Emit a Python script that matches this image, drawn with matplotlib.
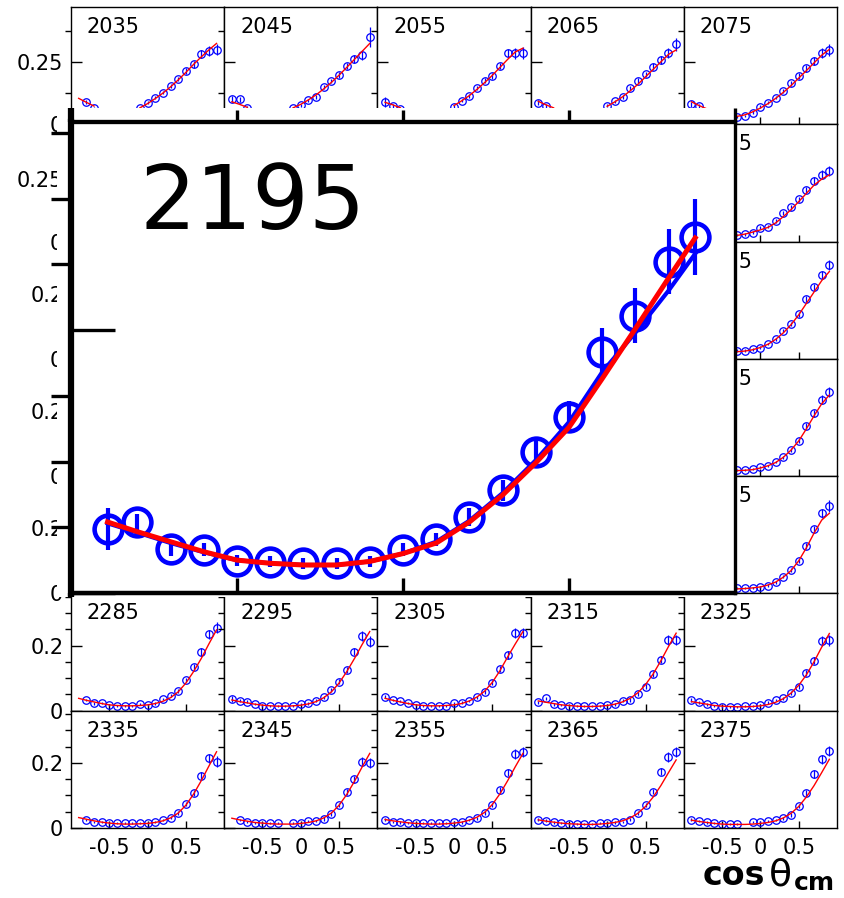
import numpy as np
import matplotlib.pyplot as plt
from matplotlib.patches import Rectangle
from matplotlib.ticker import FuncFormatter

plt.rcParams['axes.unicode_minus'] = False
plt.rcParams['font.family'] = 'DejaVu Sans'

nan = np.nan

# beam energies of the 5 x 7 panels (MeV)
energies = [2035, 2045, 2055, 2065, 2075,
            2085, 2095, 2105, 2115, 2125,
            2135, 2145, 2155, 2165, 2175,
            2185, 2195, 2205, 2215, 2225,
            2235, 2245, 2255, 2265, 2275,
            2285, 2295, 2305, 2315, 2325,
            2335, 2345, 2355, 2365, 2375]
row_ymax = [0.47, 0.47, 0.36, 0.36, 0.36, 0.36, 0.36]

cos_cm = [-0.9, -0.8, -0.7, -0.6, -0.5, -0.4, -0.3, -0.2, -0.1, 0.0,
          0.1, 0.2, 0.3, 0.4, 0.5, 0.6, 0.7, 0.8, 0.9]

# visible panels: cross section, error, fit  (nan = not visible / missing)
y_2035 = [nan, 0.090, 0.064, nan, nan, nan, nan, nan, 0.065, 0.087, 0.107, 0.127, 0.153, 0.181, 0.214, 0.240, 0.280, 0.295, 0.298]
f_2035 = [0.104, 0.088, 0.073, nan, nan, nan, nan, nan, 0.066, 0.083, 0.103, 0.125, 0.150, 0.178, 0.208, 0.240, 0.270, 0.298, 0.324]
e_2035 = [0.010, 0.008, 0.007, 0.006, 0.006, 0.005, 0.005, 0.005, 0.005, 0.006, 0.006, 0.007, 0.008, 0.009, 0.011, 0.013, 0.016, 0.020, 0.022]

y_2045 = [0.100, 0.100, 0.065, nan, nan, nan, nan, nan, 0.064, 0.077, 0.097, 0.110, 0.148, 0.173, 0.197, 0.234, 0.260, 0.278, 0.351]
f_2045 = [0.090, 0.080, 0.068, nan, nan, nan, nan, nan, 0.066, 0.080, 0.098, 0.118, 0.142, 0.168, 0.197, 0.228, 0.260, 0.292, 0.324]
e_2045 = [0.012, 0.009, 0.007, 0.006, 0.006, 0.005, 0.005, 0.005, 0.005, 0.006, 0.006, 0.007, 0.008, 0.009, 0.011, 0.013, 0.016, 0.020, 0.040]

y_2055 = [0.090, 0.073, 0.060, nan, nan, nan, nan, nan, nan, 0.070, 0.095, 0.113, 0.144, 0.175, 0.194, 0.234, 0.284, 0.284, 0.287]
f_2055 = [0.088, 0.078, 0.066, nan, nan, nan, nan, nan, nan, 0.075, 0.094, 0.115, 0.140, 0.167, 0.196, 0.228, 0.260, 0.290, 0.305]
e_2055 = [0.020, 0.009, 0.007, 0.006, 0.006, 0.005, 0.005, 0.005, 0.005, 0.006, 0.006, 0.007, 0.008, 0.009, 0.011, 0.013, 0.016, 0.022, 0.024]

y_2065 = [0.087, 0.073, nan, nan, nan, nan, nan, nan, nan, 0.075, 0.093, 0.110, 0.144, 0.175, 0.200, 0.231, 0.258, 0.284, 0.320]
f_2065 = [0.092, 0.078, 0.066, nan, nan, nan, nan, nan, nan, 0.072, 0.090, 0.110, 0.134, 0.160, 0.190, 0.220, 0.250, 0.280, 0.298]
e_2065 = [0.010, 0.008, 0.007, 0.006, 0.006, 0.005, 0.005, 0.005, 0.005, 0.006, 0.006, 0.007, 0.008, 0.009, 0.011, 0.013, 0.016, 0.020, 0.026]

y_2075 = [0.080, 0.073, nan, nan, nan, nan, 0.030, 0.033, 0.047, 0.070, 0.087, 0.107, 0.135, 0.164, 0.194, 0.224, 0.255, 0.287, 0.298]
f_2075 = [0.090, 0.075, 0.062, nan, nan, nan, 0.032, 0.038, 0.050, 0.065, 0.083, 0.104, 0.128, 0.155, 0.185, 0.215, 0.246, 0.277, 0.300]
e_2075 = [0.010, 0.008, 0.007, 0.006, 0.006, 0.005, 0.005, 0.005, 0.005, 0.006, 0.006, 0.007, 0.008, 0.009, 0.011, 0.013, 0.016, 0.020, 0.024]

y_2125 = [nan, nan, nan, nan, nan, nan, 0.026, 0.029, 0.036, 0.056, 0.060, 0.083, 0.113, 0.137, 0.169, 0.207, 0.244, 0.267, 0.284]
f_2125 = [nan, nan, nan, nan, nan, nan, 0.025, 0.030, 0.038, 0.047, 0.057, 0.075, 0.100, 0.128, 0.160, 0.193, 0.226, 0.250, 0.267]
e_2125 = [0.008, 0.007, 0.006, 0.005, 0.005, 0.005, 0.005, 0.005, 0.005, 0.005, 0.006, 0.007, 0.008, 0.009, 0.010, 0.012, 0.015, 0.018, 0.020]

y_2175 = [nan, nan, nan, nan, nan, nan, 0.025, 0.025, 0.029, 0.034, 0.045, 0.060, 0.086, 0.107, 0.137, 0.183, 0.220, 0.258, 0.288]
f_2175 = [nan, nan, nan, nan, nan, nan, 0.022, 0.024, 0.028, 0.035, 0.045, 0.060, 0.080, 0.105, 0.135, 0.170, 0.205, 0.240, 0.268]
e_2175 = [0.006, 0.005, 0.004, 0.004, 0.004, 0.004, 0.004, 0.004, 0.004, 0.004, 0.004, 0.005, 0.005, 0.006, 0.007, 0.009, 0.011, 0.013, 0.016]

y_2225 = [nan, nan, nan, nan, nan, nan, 0.019, 0.019, 0.022, 0.027, 0.031, 0.044, 0.058, 0.080, 0.109, 0.154, 0.193, 0.234, 0.259]
f_2225 = [nan, nan, nan, nan, nan, nan, 0.017, 0.018, 0.020, 0.025, 0.032, 0.042, 0.058, 0.080, 0.108, 0.145, 0.185, 0.222, 0.249]
e_2225 = [0.005, 0.004, 0.004, 0.003, 0.003, 0.003, 0.003, 0.003, 0.003, 0.003, 0.004, 0.004, 0.005, 0.006, 0.007, 0.009, 0.011, 0.014, 0.016]

y_2275 = [nan, nan, nan, nan, nan, nan, 0.016, 0.016, 0.016, 0.021, 0.024, 0.034, 0.051, 0.072, 0.099, 0.145, 0.197, 0.246, 0.268]
f_2275 = [nan, nan, nan, nan, nan, nan, 0.014, 0.015, 0.017, 0.020, 0.026, 0.035, 0.050, 0.070, 0.100, 0.140, 0.185, 0.225, 0.246]
e_2275 = [0.005, 0.004, 0.004, 0.003, 0.003, 0.003, 0.003, 0.003, 0.003, 0.003, 0.004, 0.004, 0.005, 0.006, 0.007, 0.009, 0.011, 0.014, 0.018]

y_2285 = [nan, 0.033, 0.023, 0.025, 0.017, 0.015, 0.014, 0.015, 0.021, 0.017, 0.023, 0.036, 0.046, 0.060, 0.094, 0.135, 0.179, 0.234, 0.255]
f_2285 = [0.038, 0.032, 0.027, 0.022, 0.018, 0.016, 0.015, 0.015, 0.016, 0.018, 0.022, 0.029, 0.040, 0.058, 0.085, 0.120, 0.160, 0.205, 0.248]
e_2285 = [0.005, 0.004, 0.004, 0.003, 0.003, 0.003, 0.003, 0.003, 0.003, 0.003, 0.004, 0.004, 0.005, 0.006, 0.007, 0.009, 0.012, 0.015, 0.016]

y_2295 = [0.036, 0.031, 0.028, 0.020, 0.015, 0.015, 0.014, 0.014, 0.014, 0.020, 0.023, 0.031, 0.041, 0.064, 0.089, 0.125, 0.181, 0.230, 0.212]
f_2295 = [0.033, 0.028, 0.024, 0.020, 0.017, 0.015, 0.014, 0.014, 0.015, 0.017, 0.021, 0.028, 0.040, 0.058, 0.085, 0.120, 0.160, 0.203, 0.243]
e_2295 = [0.008, 0.004, 0.004, 0.003, 0.003, 0.003, 0.003, 0.003, 0.003, 0.003, 0.004, 0.004, 0.005, 0.006, 0.007, 0.009, 0.011, 0.015, 0.016]

y_2305 = [0.043, 0.033, 0.030, 0.023, 0.017, 0.014, 0.014, 0.014, 0.014, 0.023, 0.025, 0.030, 0.041, 0.058, 0.086, 0.127, 0.171, 0.238, 0.238]
f_2305 = [0.038, 0.032, 0.027, 0.022, 0.018, 0.016, 0.015, 0.015, 0.016, 0.018, 0.022, 0.030, 0.042, 0.060, 0.087, 0.123, 0.165, 0.205, 0.243]
e_2305 = [0.005, 0.004, 0.004, 0.003, 0.003, 0.003, 0.003, 0.003, 0.003, 0.003, 0.004, 0.004, 0.005, 0.006, 0.007, 0.009, 0.011, 0.016, 0.016]

y_2315 = [0.026, 0.038, 0.020, 0.017, 0.014, 0.014, 0.014, 0.014, 0.014, 0.017, 0.020, 0.031, 0.033, 0.050, 0.074, 0.113, 0.156, 0.217, 0.217]
f_2315 = [0.030, 0.026, 0.022, 0.018, 0.016, 0.014, 0.013, 0.013, 0.014, 0.016, 0.020, 0.027, 0.038, 0.055, 0.080, 0.113, 0.153, 0.197, 0.238]
e_2315 = [0.005, 0.004, 0.004, 0.003, 0.003, 0.003, 0.003, 0.003, 0.003, 0.003, 0.004, 0.004, 0.005, 0.006, 0.007, 0.009, 0.011, 0.015, 0.016]

y_2325 = [0.033, 0.026, 0.020, 0.014, 0.012, 0.012, 0.012, 0.014, 0.014, 0.017, 0.025, 0.033, 0.038, 0.055, 0.074, 0.117, 0.154, 0.215, 0.216]
f_2325 = [0.028, 0.024, 0.020, 0.016, 0.014, 0.013, 0.012, 0.012, 0.013, 0.015, 0.019, 0.026, 0.037, 0.054, 0.078, 0.110, 0.150, 0.195, 0.237]
e_2325 = [0.005, 0.004, 0.004, 0.003, 0.003, 0.003, 0.003, 0.003, 0.003, 0.003, 0.004, 0.004, 0.005, 0.006, 0.007, 0.009, 0.011, 0.015, 0.016]

y_2335 = [nan, 0.025, 0.019, 0.017, 0.014, 0.014, 0.014, 0.014, 0.016, 0.016, 0.019, 0.025, 0.032, 0.047, 0.073, 0.108, 0.160, 0.214, 0.204]
f_2335 = [0.032, 0.027, 0.022, 0.018, 0.015, 0.013, 0.012, 0.012, 0.013, 0.014, 0.017, 0.022, 0.031, 0.046, 0.070, 0.104, 0.145, 0.190, 0.234]
e_2335 = [0.005, 0.004, 0.004, 0.003, 0.003, 0.003, 0.003, 0.003, 0.003, 0.003, 0.004, 0.004, 0.005, 0.006, 0.007, 0.009, 0.011, 0.014, 0.016]

y_2345 = [nan, 0.025, 0.019, 0.016, 0.014, 0.014, 0.014, nan, 0.014, 0.016, 0.021, 0.021, 0.028, 0.043, 0.071, 0.111, 0.149, 0.204, 0.200]
f_2345 = [0.030, 0.025, 0.021, 0.017, 0.015, 0.013, 0.012, 0.012, 0.012, 0.014, 0.017, 0.022, 0.031, 0.046, 0.070, 0.103, 0.143, 0.187, 0.229]
e_2345 = [0.005, 0.004, 0.004, 0.003, 0.003, 0.003, 0.003, 0.003, 0.003, 0.003, 0.004, 0.004, 0.005, 0.006, 0.007, 0.009, 0.011, 0.014, 0.016]

y_2355 = [0.025, 0.019, 0.017, 0.014, 0.014, 0.014, 0.014, 0.014, 0.016, 0.017, 0.017, 0.025, 0.030, 0.047, 0.071, 0.117, 0.170, 0.226, 0.234]
f_2355 = [0.026, 0.022, 0.019, 0.016, 0.014, 0.013, 0.012, 0.012, 0.013, 0.015, 0.018, 0.024, 0.033, 0.048, 0.072, 0.105, 0.145, 0.188, 0.229]
e_2355 = [0.005, 0.004, 0.004, 0.003, 0.003, 0.003, 0.003, 0.003, 0.003, 0.003, 0.004, 0.004, 0.005, 0.006, 0.007, 0.009, 0.011, 0.015, 0.016]

y_2365 = [0.025, 0.023, 0.017, 0.014, 0.012, 0.012, 0.012, 0.012, 0.014, 0.014, 0.017, 0.019, 0.026, 0.045, 0.071, 0.112, 0.173, 0.219, 0.234]
f_2365 = [0.025, 0.021, 0.018, 0.015, 0.013, 0.012, 0.011, 0.011, 0.012, 0.014, 0.017, 0.022, 0.031, 0.045, 0.066, 0.095, 0.130, 0.170, 0.209]
e_2365 = [0.005, 0.004, 0.004, 0.003, 0.003, 0.003, 0.003, 0.003, 0.003, 0.003, 0.004, 0.004, 0.005, 0.006, 0.007, 0.009, 0.011, 0.015, 0.016]

y_2375 = [0.026, 0.022, 0.017, 0.014, 0.012, 0.012, 0.012, nan, 0.017, 0.017, 0.021, 0.025, 0.030, 0.040, 0.068, 0.107, 0.166, 0.211, 0.237]
f_2375 = [0.024, 0.020, 0.017, 0.014, 0.012, 0.011, 0.011, 0.011, 0.012, 0.014, 0.017, 0.022, 0.031, 0.045, 0.066, 0.095, 0.130, 0.170, 0.211]
e_2375 = [0.005, 0.004, 0.004, 0.003, 0.003, 0.003, 0.003, 0.003, 0.003, 0.003, 0.004, 0.004, 0.005, 0.006, 0.007, 0.009, 0.011, 0.014, 0.016]

panels = {
    2035: (y_2035, e_2035, f_2035), 2045: (y_2045, e_2045, f_2045),
    2055: (y_2055, e_2055, f_2055), 2065: (y_2065, e_2065, f_2065),
    2075: (y_2075, e_2075, f_2075), 2125: (y_2125, e_2125, f_2125),
    2175: (y_2175, e_2175, f_2175), 2225: (y_2225, e_2225, f_2225),
    2275: (y_2275, e_2275, f_2275), 2285: (y_2285, e_2285, f_2285),
    2295: (y_2295, e_2295, f_2295), 2305: (y_2305, e_2305, f_2305),
    2315: (y_2315, e_2315, f_2315), 2325: (y_2325, e_2325, f_2325),
    2335: (y_2335, e_2335, f_2335), 2345: (y_2345, e_2345, f_2345),
    2355: (y_2355, e_2355, f_2355), 2365: (y_2365, e_2365, f_2365),
    2375: (y_2375, e_2375, f_2375),
}

# enlarged panel
inset_label = "2195"
inset_cos = [-0.89, -0.8, -0.7, -0.6, -0.5, -0.4, -0.3, -0.2, -0.1, 0.0,
             0.1, 0.2, 0.3, 0.4, 0.5, 0.6, 0.7, 0.8, 0.88]
inset_y = [0.049, 0.054, 0.0335, 0.033, 0.0246, 0.0238, 0.0226, 0.0226, 0.0238, 0.033,
           0.041, 0.058, 0.078, 0.107, 0.134, 0.1835, 0.211, 0.252, 0.2705]
inset_err = [0.016, 0.006, 0.005, 0.005, 0.004, 0.004, 0.004, 0.004, 0.004, 0.005,
             0.005, 0.007, 0.008, 0.010, 0.012, 0.018, 0.021, 0.025, 0.029]
inset_fit = [0.054, 0.0466, 0.039, 0.0314, 0.025, 0.0226, 0.0213, 0.0213, 0.024, 0.030,
             0.038, 0.054, 0.0745, 0.099, 0.126, 0.163, 0.201, 0.2395, 0.270]
inset_fit2 = [0.053, 0.046, 0.038, 0.031, 0.025, 0.0226, 0.0213, 0.0213, 0.024, 0.030,
              0.039, 0.055, 0.076, 0.101, 0.130, 0.168, 0.198, 0.230, 0.258]

W, H = 844, 898
fig = plt.figure(figsize=(W / 100, H / 100), dpi=100)

gx0, gy0 = 71, 7
pw, ph = 766 / 5, 821 / 7
fmt = FuncFormatter(lambda v, p: '0' if v == 0 else f'{v:g}')

for i, e in enumerate(energies):
    r, c = divmod(i, 5)
    ax = fig.add_axes([(gx0 + c * pw) / W, 1 - (gy0 + (r + 1) * ph) / H, pw / W, ph / H])
    ax.set_xlim(-1, 1)
    ax.set_ylim(0, row_ymax[r])
    if r < 2:
        ax.set_yticks([0, 0.25])
        ax.set_yticks([0.125, 0.375], minor=True)
    else:
        ax.set_yticks([0, 0.2])
        ax.set_yticks([0.05, 0.1, 0.15, 0.25, 0.3, 0.35], minor=True)
    ax.set_xticks([-0.5, 0, 0.5])
    ax.xaxis.set_major_formatter(fmt)
    ax.yaxis.set_major_formatter(fmt)
    ax.tick_params(direction='in', labelsize=15, width=1, color='black')
    ax.tick_params(axis='y', which='major', length=8, pad=5.5)
    ax.tick_params(axis='y', which='minor', length=4.3, width=1)
    ax.tick_params(axis='x', which='major', length=5, pad=7)
    ax.tick_params(labelleft=(c == 0), labelbottom=(r == 6))
    for s in ax.spines.values():
        s.set_linewidth(1.0)
    ax.text(16 / pw, 1 - 10 / ph, str(e), transform=ax.transAxes,
            ha='left', va='top', fontsize=15)
    if e in panels:
        y, err, fit = panels[e]
        ax.errorbar(cos_cm, y, yerr=err, fmt='o', ms=5.4, mfc='none', mec='blue',
                    mew=0.9, ecolor='blue', elinewidth=0.9, capsize=0, zorder=2)
        ax.plot(cos_cm, fit, color='red', lw=1.0, zorder=3)

# white backing for the enlarged panel
fig.add_artist(Rectangle((57 / W, 1 - 597 / H), 680 / W, 489 / H,
                         transform=fig.transFigure, facecolor='white',
                         edgecolor='none', zorder=5))

ih = 593 - 121.7
ax_in = fig.add_axes([71 / W, 1 - 593 / H, 664 / W, ih / H], zorder=10)
ax_in.set_xlim(-1, 1)
ax_in.set_ylim(0, ih / 1315)
ax_in.plot(inset_cos, inset_fit2, color='blue', lw=3.0, zorder=2)
ax_in.errorbar(inset_cos, inset_y, yerr=inset_err, fmt='o', ms=20, mfc='none',
               mec='blue', mew=3.3, ecolor='blue', elinewidth=3.0, capsize=0, zorder=3)
ax_in.plot(inset_cos, inset_fit, color='red', lw=3.6, zorder=4)
ax_in.set_yticks([0, 0.2])
ax_in.set_yticks([0.05, 0.1, 0.15, 0.25, 0.3, 0.35], minor=True)
ax_in.set_xticks([-0.5, 0, 0.5])
ax_in.tick_params(direction='in', labelleft=False, labelbottom=False, color='black')
ax_in.tick_params(axis='y', which='major', length=32, width=2.4)
ax_in.tick_params(axis='y', which='minor', length=14.5, width=2.4)
ax_in.tick_params(axis='x', which='major', length=11, width=2.4)
ax_in.spines['left'].set_linewidth(4.5)
ax_in.spines['top'].set_linewidth(3.0)
ax_in.spines['bottom'].set_linewidth(3.2)
ax_in.spines['right'].set_linewidth(2.4)
sec = ax_in.secondary_xaxis('top')
sec.set_xticks([-0.5, 0, 0.5])
sec.tick_params(direction='out', length=9, width=2.4, labeltop=False)
sec.spines['top'].set_linewidth(3.0)
# frame sides running past the top and bottom edges
ax_in.plot([0, 0], [1, 1 + 14 / ih], transform=ax_in.transAxes, clip_on=False,
           color='black', lw=4.5, solid_capstyle='butt')
ax_in.plot([0, 0], [0, -4 / ih], transform=ax_in.transAxes, clip_on=False,
           color='black', lw=4.5, solid_capstyle='butt')
ax_in.plot([1, 1], [1, 1 + 14 / ih], transform=ax_in.transAxes, clip_on=False,
           color='black', lw=2.4, solid_capstyle='butt')
ax_in.text(68 / 664, 1 - 39 / ih, inset_label, transform=ax_in.transAxes,
           ha='left', va='top', fontsize=64)

# axis title
fig.text(703 / W, 1 - 885 / H, 'cos', fontsize=24, fontweight='bold', va='baseline')
fig.text(769 / W, 1 - 885 / H, '\u03b8', fontsize=27, va='baseline')
fig.text(835 / W, 1 - 890 / H, 'cm', fontsize=18, fontweight='bold', ha='right', va='baseline')

fig.savefig('out.png', dpi=100)
